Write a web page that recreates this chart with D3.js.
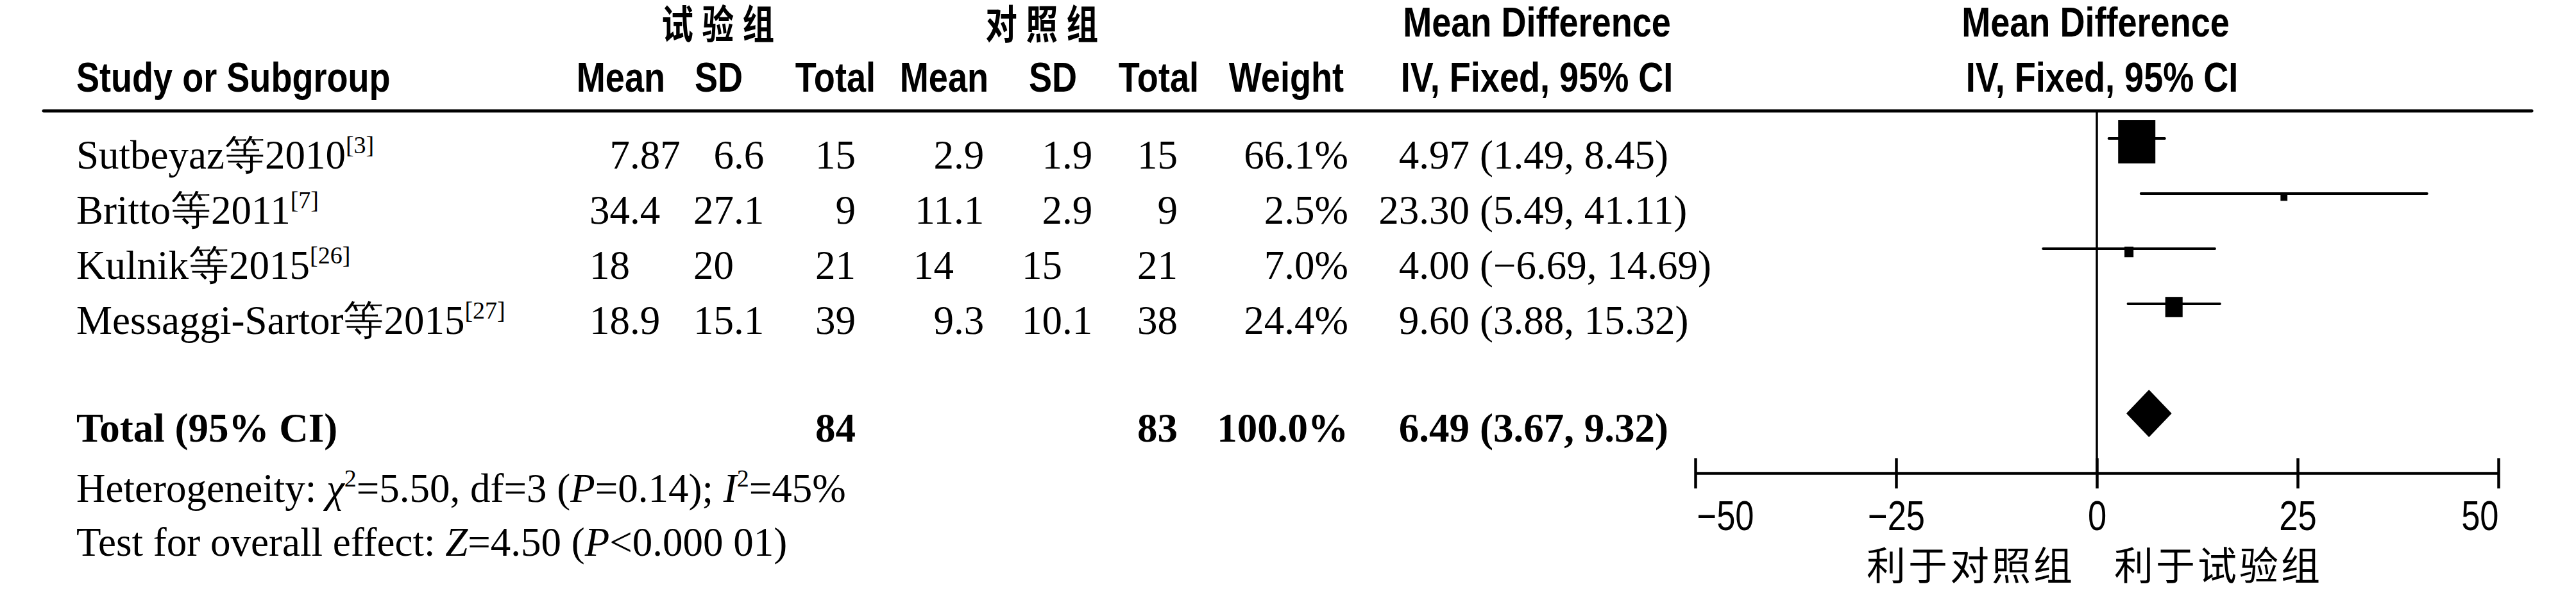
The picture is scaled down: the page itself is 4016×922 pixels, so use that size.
<!DOCTYPE html>
<html>
<head>
<meta charset="utf-8">
<script src="https://cdn.jsdelivr.net/npm/d3@7"></script>
<style>
  html, body { margin: 0; padding: 0; background: #fff; }
  svg { display: block; }
  .serif { font-family: 'Liberation Serif', 'Times New Roman', serif; font-size: 63px; fill: #000; }
  .hdr { font-family: 'Liberation Sans Narrow', 'Arial Narrow', 'Liberation Sans', sans-serif; font-weight: bold; font-size: 64px; fill: #000; }
  .cjk { font-family: 'Noto Sans CJK SC', sans-serif; fill: #000; }
  .tick text { font-family: 'Liberation Sans', 'Arial', sans-serif; font-size: 64px; fill: #000; }
</style>
</head>
<body>
<svg id="chart" width="4016" height="922"></svg>
<script>
// ---------------- data ----------------
const studyNames = ["Sutbeyaz等2010", "Britto等2011", "Kulnik等2015", "Messaggi-Sartor等2015"];
const studyRefs  = ["[3]", "[7]", "[26]", "[27]"];
const expMean = [7.87, 34.4, 18, 18.9];
const expSD   = [6.6, 27.1, 20, 15.1];
const expN    = [15, 9, 21, 39];
const ctlMean = [2.9, 11.1, 14, 9.3];
const ctlSD   = [1.9, 2.9, 15, 10.1];
const ctlN    = [15, 9, 21, 38];
const weights = [66.1, 2.5, 7.0, 24.4];
const md      = [4.97, 23.30, 4.00, 9.60];
const ciLow   = [1.49, 5.49, -6.69, 3.88];
const ciHigh  = [8.45, 41.11, 14.69, 15.32];
const totalExpN = 84, totalCtlN = 83, totalWeight = 100.0;
const totalMD = 6.49, totalLow = 3.67, totalHigh = 9.32;
const xTicks = [-50, -25, 0, 25, 50];
const groupLabels = ["试验组", "对照组"];
const favourLabels = ["利于对照组", "利于试验组"];
const heterogeneity = ["Heterogeneity: ", {i:"χ"}, {s:"2"}, "=5.50, df=3 (", {i:"P"}, "=0.14); ", {i:"I"}, {s:"2"}, "=45%"];
const overallTest = ["Test for overall effect: ", {i:"Z"}, "=4.50 (", {i:"P"}, "<0.000 01)"];

// ---------------- scales ----------------
const svg = d3.select("#chart");
const x = d3.scaleLinear().domain([-50, 50]).range([2643, 3895]);
const rowY = d3.scaleLinear().domain([0, 3]).range([263, 521]);   // text baselines
const totalY = 689;
const sqW = d3.scaleLinear().domain([0, 100]).range([8.9, 83.2]);
const fmtNeg = s => s.replace("-", "−");
const f2 = v => fmtNeg(v.toFixed(2));
const NARROW = 0.845;

// ---------------- header ----------------
const hdr1 = 57, hdr2 = 143;
groupLabels.forEach((g, i) => {
  svg.append("text").attr("class", "cjk")
    .attr("transform", `translate(${[1126, 1631][i]},${hdr1 + 4}) scale(0.8,1)`)
    .attr("text-anchor", "middle").style("font-size", "62px").style("font-weight", "bold")
    .style("letter-spacing", "17px").text(g);
});

const hdrCols = [
  {t: "Mean Difference", x: 2396, y: hdr1, a: "middle"},
  {t: "Mean Difference", x: x(0) - 2, y: hdr1, a: "middle"},
  {t: "Study or Subgroup", x: 119, y: hdr2, a: "start"},
  {t: "Mean", x: 1037, y: hdr2, a: "end"},
  {t: "SD", x: 1158, y: hdr2, a: "end"},
  {t: "Total", x: 1365, y: hdr2, a: "end"},
  {t: "Mean", x: 1541, y: hdr2, a: "end"},
  {t: "SD", x: 1679, y: hdr2, a: "end"},
  {t: "Total", x: 1869, y: hdr2, a: "end"},
  {t: "Weight", x: 2095, y: hdr2, a: "end"},
  {t: "IV, Fixed, 95% CI", x: 2396, y: hdr2, a: "middle"},
  {t: "IV, Fixed, 95% CI", x: x(0) + 8, y: hdr2, a: "middle"}
];
svg.selectAll("text.h2").data(hdrCols).enter().append("text")
  .attr("class", "hdr h2")
  .attr("transform", d => `translate(${d.x},${d.y}) scale(${NARROW},1)`)
  .attr("text-anchor", d => d.a).text(d => d.t);

// top rule
svg.append("line").attr("x1", 68).attr("x2", 3947).attr("y1", 173).attr("y2", 173)
  .attr("stroke", "#000").attr("stroke-width", 5).attr("stroke-linecap", "round");

// ---------------- study rows ----------------
function decimalText(g, v, decX, y, cls) {
  const s = String(v).split(".");
  g.append("text").attr("class", cls).attr("x", decX).attr("y", y).attr("text-anchor", "end").text(s[0]);
  if (s.length > 1) g.append("text").attr("class", cls).attr("x", decX).attr("y", y).attr("text-anchor", "start").text("." + s[1]);
}

const rows = svg.append("g");
studyNames.forEach((name, i) => {
  const y = rowY(i);
  const t = rows.append("text").attr("class", "serif").attr("x", 119).attr("y", y);
  t.append("tspan").text(name);
  t.append("tspan").attr("dy", -24).style("font-size", "38px").text(studyRefs[i]);
  decimalText(rows, expMean[i], 982, y, "serif");
  decimalText(rows, expSD[i], 1144, y, "serif");
  rows.append("text").attr("class", "serif").attr("x", 1334).attr("y", y).attr("text-anchor", "end").text(expN[i]);
  decimalText(rows, ctlMean[i], 1487, y, "serif");
  decimalText(rows, ctlSD[i], 1656, y, "serif");
  rows.append("text").attr("class", "serif").attr("x", 1836).attr("y", y).attr("text-anchor", "end").text(ctlN[i]);
  rows.append("text").attr("class", "serif").attr("x", 2102).attr("y", y).attr("text-anchor", "end").text(weights[i].toFixed(1) + "%");
  rows.append("text").attr("class", "serif").attr("x", 2291).attr("y", y).attr("text-anchor", "end").text(f2(md[i]));
  rows.append("text").attr("class", "serif").attr("x", 2307).attr("y", y).attr("text-anchor", "start")
    .text("(" + f2(ciLow[i]) + ", " + f2(ciHigh[i]) + ")");
});

// total row
const tr = svg.append("g").style("font-weight", "bold");
tr.append("text").attr("class", "serif").attr("x", 119).attr("y", totalY).text("Total (95% CI)");
tr.append("text").attr("class", "serif").attr("x", 1334).attr("y", totalY).attr("text-anchor", "end").text(totalExpN);
tr.append("text").attr("class", "serif").attr("x", 1836).attr("y", totalY).attr("text-anchor", "end").text(totalCtlN);
tr.append("text").attr("class", "serif").attr("x", 2102).attr("y", totalY).attr("text-anchor", "end").text(totalWeight.toFixed(1) + "%");
tr.append("text").attr("class", "serif").attr("x", 2291).attr("y", totalY).attr("text-anchor", "end").text(f2(totalMD));
tr.append("text").attr("class", "serif").attr("x", 2307).attr("y", totalY).attr("text-anchor", "start")
  .text("(" + f2(totalLow) + ", " + f2(totalHigh) + ")");

// footnotes
function richText(parts, y) {
  const t = svg.append("text").attr("class", "serif").attr("x", 119).attr("y", y);
  let raised = false;
  parts.forEach(p => {
    const ts = t.append("tspan");
    if (typeof p === "string") { ts.text(p); if (raised) { ts.attr("dy", 24); raised = false; } }
    else if (p.i) { ts.style("font-style", "italic").text(p.i); if (raised) { ts.attr("dy", 24); raised = false; } }
    else if (p.s) { ts.attr("dy", -24).style("font-size", "38px").text(p.s); raised = true; }
  });
}
richText(heterogeneity, 783);
richText(overallTest, 867);

// ---------------- forest plot ----------------
const axisY = 738;
svg.append("line").attr("x1", x(0)).attr("x2", x(0)).attr("y1", 173).attr("y2", axisY)
  .attr("stroke", "#000").attr("stroke-width", 3.5);

const plot = svg.append("g");
studyNames.forEach((name, i) => {
  const ly = rowY(i) - 47;
  plot.append("line").attr("x1", x(ciLow[i])).attr("x2", x(ciHigh[i])).attr("y1", ly).attr("y2", ly)
    .attr("stroke", "#000").attr("stroke-width", 4).attr("stroke-linecap", "round");
  const w = sqW(weights[i]), h = w * 1.17;
  plot.append("rect").attr("x", x(md[i]) - w / 2).attr("y", ly + 5 - h / 2)
    .attr("width", w).attr("height", h).attr("fill", "#000");
});

const dy0 = totalY - 44, dh = 37;
plot.append("path")
  .attr("d", `M${x(totalLow)},${dy0} L${x(totalMD)},${dy0 - dh} L${x(totalHigh)},${dy0} L${x(totalMD)},${dy0 + dh} Z`)
  .attr("fill", "#000");

// axis
const axis = d3.axisBottom(x).tickValues(xTicks).tickSizeOuter(0).tickSize(0)
  .tickFormat(d => d < 0 ? "−" + Math.abs(d) : String(d));
const ag = svg.append("g").attr("transform", `translate(0,${axisY})`).call(axis);
ag.attr("font-size", null).attr("font-family", null);
ag.select(".domain").attr("stroke", "#000").attr("stroke-width", 4.5);
ag.selectAll(".tick line").attr("y1", -23).attr("y2", 24).attr("stroke", "#000").attr("stroke-width", 4.5);
ag.selectAll(".tick text").attr("y", 0).attr("dy", 0)
  .attr("transform", (d, i) => `translate(${i === 0 ? 2 : 0},89) scale(0.82,1)`)
  .attr("text-anchor", (d, i) => i === 0 ? "start" : (i === xTicks.length - 1 ? "end" : "middle"));

svg.append("text").attr("class", "cjk").attr("x", x(0) - 34).attr("y", 905).attr("text-anchor", "end")
  .style("font-size", "61px").style("letter-spacing", "4px").text(favourLabels[0]);
svg.append("text").attr("class", "cjk").attr("x", x(0) + 27).attr("y", 905).attr("text-anchor", "start")
  .style("font-size", "61px").style("letter-spacing", "4px").text(favourLabels[1]);
</script>
</body>
</html>
